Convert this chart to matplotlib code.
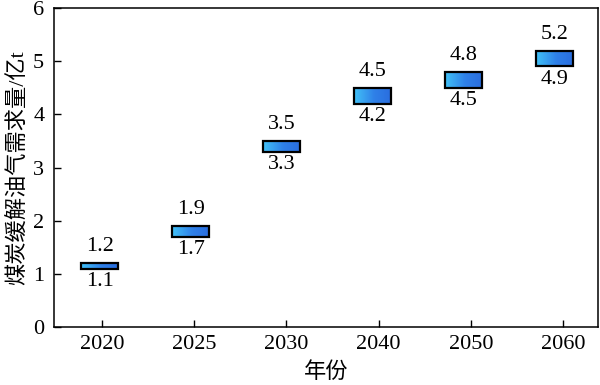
import numpy as np
import matplotlib
matplotlib.use("Agg")
import matplotlib.pyplot as plt
from matplotlib.colors import LinearSegmentedColormap
from matplotlib.patches import Rectangle

plt.rcParams['font.family'] = ['Liberation Serif', 'Noto Sans CJK SC']

# 年份与区间
years = ["2020", "2025", "2030", "2040", "2050", "2060"]
low = [1.1, 1.7, 3.3, 4.2, 4.5, 4.9]
high = [1.2, 1.9, 3.5, 4.5, 4.8, 5.2]

cmap = LinearSegmentedColormap.from_list(
    "bl", [(0, "#42c2f7"), (0.55, "#2f80e8"), (1, "#2a6edf")])
grad = np.linspace(0, 1, 256).reshape(1, -1)

fig = plt.figure(figsize=(6, 3.85), dpi=100)
ax = fig.add_axes([0.09, 0.1506, 0.907, 0.8286])

# 方框略微偏左于刻度
pos = np.arange(len(years)) * 0.986 - 0.022
w = 0.40
for x, lo, hi in zip(pos, low, high):
    x0 = x - w / 2
    im = ax.imshow(grad, cmap=cmap, aspect='auto', interpolation='bilinear',
                   extent=(x0, x0 + w, lo, hi), zorder=2)
    rect = Rectangle((x0, lo), w, hi - lo, facecolor='none',
                     edgecolor='black', linewidth=1.6, zorder=3)
    ax.add_patch(rect)
    im.set_clip_path(rect)
    ax.text(x, hi + 0.13, f"{hi}", ha='center', va='bottom', fontsize=16)
    ax.text(x, lo - 0.06, f"{lo}", ha='center', va='top', fontsize=16)

ax.set_xlim(-0.52, 5.38)
ax.set_ylim(0, 6)
ax.set_xticks(range(len(years)))
ax.set_xticklabels(years)
ax.tick_params(direction='in', labelsize=16, length=5, width=1)
ax.tick_params(axis='x', pad=6)
ax.tick_params(axis='y', pad=7)
for s in ax.spines.values():
    s.set_linewidth(1.1)
ax.set_xlabel("年份", fontsize=16, labelpad=6)
ax.set_ylabel("煤炭缓解油气需求量/亿t", fontsize=16, labelpad=4)

fig.savefig("out.png", dpi=100)
